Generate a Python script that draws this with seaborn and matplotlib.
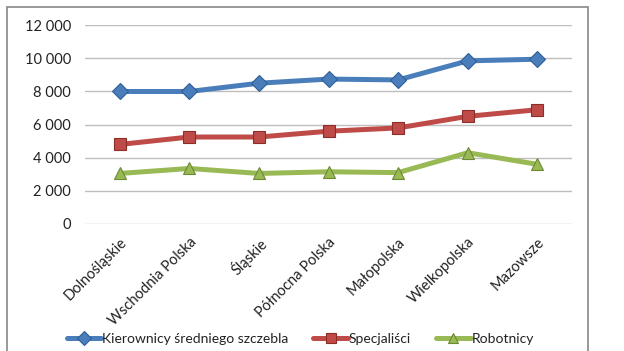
import pandas as pd
import seaborn as sns
import matplotlib.pyplot as plt
from matplotlib.patches import Rectangle
from matplotlib.ticker import FuncFormatter

regiony = ['Dolnośląskie', 'Wschodnia Polska', 'Śląskie', 'Północna Polska',
           'Małopolska', 'Wielkopolska', 'Mazowsze']
kierownicy = [8000, 8000, 8500, 8750, 8700, 9850, 9950]
specjalisci = [4800, 5250, 5250, 5600, 5800, 6500, 6900]
robotnicy = [3050, 3350, 3050, 3150, 3100, 4300, 3600]
serie = ['Kierownicy średniego szczebla', 'Specjaliści', 'Robotnicy']
kolory = ['#4A7EBB', '#BE4B48', '#98B954']
krawedzie = ['#2F5E96', '#8C2D2A', '#6B8A34']

df = pd.DataFrame({
    'region': regiony * 3,
    'wartosc': kierownicy + specjalisci + robotnicy,
    'seria': [s for s in serie for _ in regiony],
})

sns.set_theme(style='white')
plt.rcParams['font.family'] = ['Lato', 'DejaVu Sans']

fig = plt.figure(figsize=(6.24, 3.51), dpi=100)
ax = fig.add_axes([0.136, 0.362, 0.781, 0.566])

sns.lineplot(data=df, x='region', y='wartosc', hue='seria', style='seria',
             markers=['D', 's', '^'], dashes=False, palette=kolory,
             linewidth=3.6, markersize=8.5, sort=False, ax=ax, legend=False)

# obramowanie markerów
for line, ec in zip(ax.get_lines(), krawedzie):
    line.set_markeredgecolor(ec)
    line.set_markeredgewidth(0.8)

ax.set_ylim(0, 12000)
ax.set_xlim(-0.5, 6.5)
ax.set_yticks(range(0, 12001, 2000))
ax.yaxis.set_major_formatter(FuncFormatter(lambda v, p: f'{int(v):,}'.replace(',', ' ')))
ax.yaxis.grid(True, color='#BEBEBE', linewidth=1)
ax.set_axisbelow(True)
for s in ax.spines.values():
    s.set_visible(False)
ax.set_xlabel('')
ax.set_ylabel('')
ax.tick_params(axis='y', labelsize=10.5, colors='#222222', pad=10, length=0)
ax.tick_params(axis='x', labelsize=10.5, colors='#222222', length=0, pad=8)
plt.setp(ax.get_xticklabels(), rotation=45, ha='right', rotation_mode='anchor')

handles = [plt.Line2D([], [], color=c, marker=m, markersize=7.5, linewidth=3.6,
                      markeredgecolor=ec, markeredgewidth=0.8)
           for c, m, ec in zip(kolory, ['D', 's', '^'], krawedzie)]
fig.legend(handles, serie, loc='center', bbox_to_anchor=(0.481, 0.034), ncol=3,
           frameon=False, fontsize=10, handlelength=2.5, handletextpad=0.05,
           columnspacing=1.8, labelcolor='#222222')

# ramka wykresu
fig.patches.append(Rectangle((0.011, -0.02), 0.931, 0.999, transform=fig.transFigure,
                             fill=False, edgecolor='#888888', linewidth=1.2))

fig.savefig('out.png', dpi=100)
